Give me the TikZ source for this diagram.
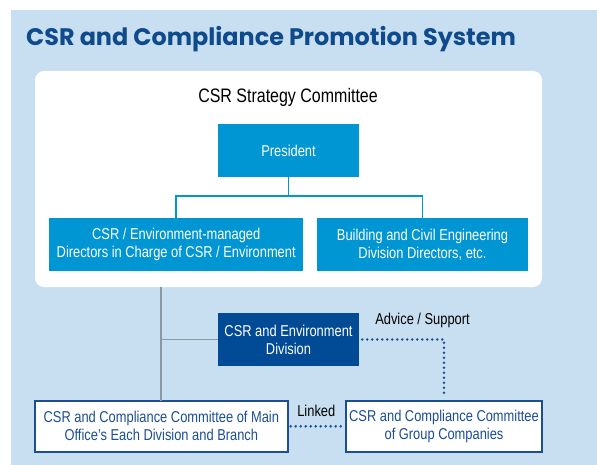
\documentclass[tikz,border=0pt]{standalone}
\usepackage{fontspec}
\usetikzlibrary{calc}
\setmainfont{Liberation Sans}[FakeStretch=0.82]
\newfontfamily\titlefont{Poppins}
\definecolor{bgblue}{HTML}{C8DFF2}
\definecolor{midblue}{HTML}{0095D3}
\definecolor{darkblue}{HTML}{004A96}
\definecolor{navy}{HTML}{1C4E96}
\definecolor{titleblue}{HTML}{0F4A8C}
\definecolor{grayline}{HTML}{8A98A2}
\tikzset{
  fbox/.style={fill=midblue, text=white, inner sep=0pt, outer sep=0pt, align=center,
     font=\fontsize{15.7pt}{18pt}\selectfont},
  dbox/.style={fill=darkblue, text=white, inner sep=0pt, outer sep=0pt, align=center,
     font=\fontsize{15.7pt}{18pt}\selectfont},
  wbox/.style={fill=white, draw=navy, line width=1.8pt, text=navy, inner sep=0pt, outer sep=0pt, align=center,
     font=\fontsize{15.7pt}{18pt}\selectfont},
  tree/.style={draw=midblue, line width=1.6pt},
  gline/.style={draw=grayline, line width=1.8pt},
  dotline/.style={draw=navy, line width=2.8pt, line cap=round, dash pattern=on 0pt off 5pt},
  lbl/.style={inner sep=0pt, text=black, font=\fontsize{15.7pt}{18pt}\selectfont},
}
\begin{document}
\begin{tikzpicture}[x=1pt,y=-1pt]
\useasboundingbox (0,0) rectangle (597,465);
\fill[bgblue] (11,10) rectangle (597,465);
\node[anchor=base west, inner sep=0pt, text=titleblue, font=\titlefont\bfseries\fontsize{23.9pt}{26pt}\selectfont] (title) at (26,46) {CSR and Compliance Promotion System};
\node[fill=white, rounded corners=9pt, inner sep=0pt, outer sep=0pt, minimum width=507pt, minimum height=216pt, anchor=north west] (panel) at (35,71) {};
\node[inner sep=0pt, font=\fontsize{19.5pt}{22pt}\selectfont] (csc) at (288,97) {CSR Strategy Committee};
\node[fbox, minimum width=141pt, minimum height=53pt] (pres) at (288.5,150.5) {President};
\node[fbox, minimum width=254.3pt, minimum height=52.4pt] (left) at (176.2,244.5) {CSR / Environment-managed\\Directors in Charge of CSR / Environment};
\node[fbox, minimum width=211.6pt, minimum height=52.4pt] (right) at (422.5,244.5) {Building and Civil Engineering\\Division Directors, etc.};
\coordinate (junc) at ($(pres.south)+(0,19)$);
\draw[tree] (pres.south) -- (junc) -| (left.north);
\draw[tree] (junc) -| (right.north);
\node[dbox, minimum width=141.6pt, minimum height=52.4pt] (div) at (288.5,339.5) {CSR and Environment\\Division};
\node[wbox, minimum width=252.7pt, minimum height=51.3pt] (bl) at (161.35,426.35) {CSR and Compliance Committee of Main\\Office’s Each Division and Branch};
\node[wbox, minimum width=196.6pt, minimum height=51.3pt] (br) at (444,426.35) {CSR and Compliance Committee\\of Group Companies};
\coordinate (gtop) at (bl.north |- panel.south);
\coordinate (gmid) at (bl.north |- div.west);
\draw[gline] (gtop) -- (bl.north);
\draw[gline] (gmid) -- (div.west);
\draw[dotline, shorten <=3pt, shorten >=4pt] (div.east) -| (br.north);
\draw[dotline, shorten <=3pt, shorten >=3pt] (bl.east) -- (br.west);
\node[lbl] (adv) at (422.5,320.7) {Advice / Support};
\node[lbl] (lnk) at (316.3,410.7) {Linked};
\end{tikzpicture}
\end{document}
